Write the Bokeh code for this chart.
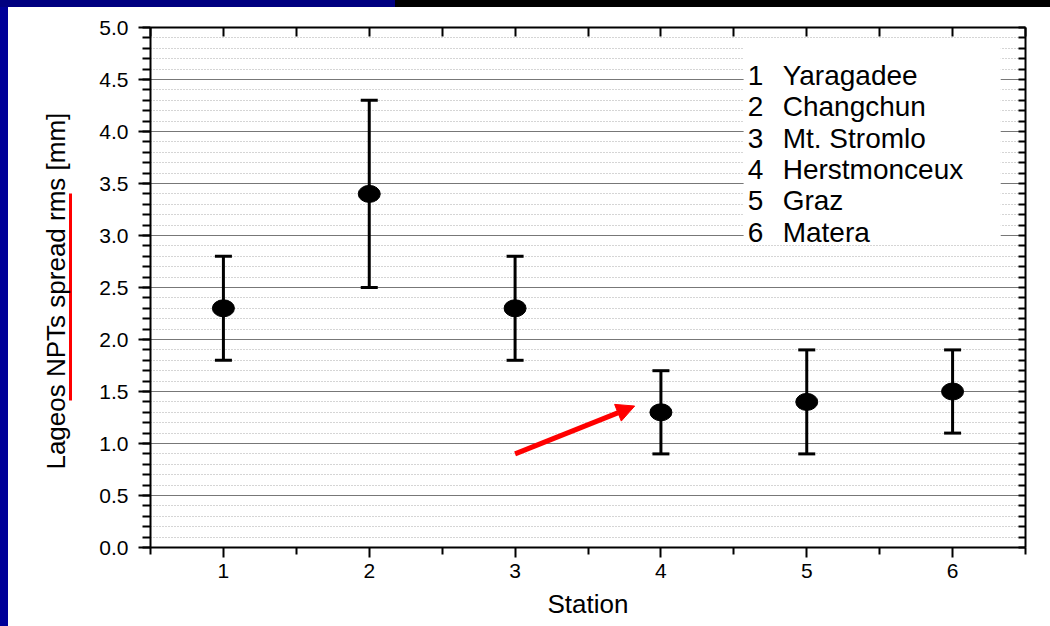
from bokeh.plotting import figure
from bokeh.models import (ColumnDataSource, Whisker, TeeHead, FixedTicker, LinearAxis,
                          Range1d, BoxAnnotation, Arrow, NormalHead, Label, Div)
from bokeh.layouts import column, row
from bokeh.embed import file_html
from bokeh.resources import INLINE

# ---- data ----
stations = [1, 2, 3, 4, 5, 6]
station_names = ["Yaragadee", "Changchun", "Mt. Stromlo", "Herstmonceux", "Graz", "Matera"]
rms = [2.3, 3.4, 2.3, 1.3, 1.4, 1.5]
rms_low = [1.8, 2.5, 1.8, 0.9, 0.9, 1.1]
rms_high = [2.8, 4.3, 2.8, 1.7, 1.9, 1.9]
x_minor = [0.5, 1.5, 2.5, 3.5, 4.5, 5.5, 6.5]
y_major = [0.0, 0.5, 1.0, 1.5, 2.0, 2.5, 3.0, 3.5, 4.0, 4.5, 5.0]
y_tick_labels = ["0.0", "0.5", "1.0", "1.5", "2.0", "2.5", "3.0", "3.5", "4.0", "4.5", "5.0"]
y_minor = [round(i * 0.1, 1) for i in range(51)]
arrow_start = (3.0, 0.9)
arrow_end = (3.82, 1.36)
underline_span = (1.41, 3.40)      # red mark beside the y label (y data units)

FONT = "Liberation Sans"

src = ColumnDataSource(dict(x=stations, y=rms, low=rms_low, high=rms_high))

fig = figure(width=1042, height=619, x_range=Range1d(0.5, 6.5), y_range=Range1d(0, 5),
             output_backend="svg", toolbar_location=None,
             min_border_left=142, min_border_right=25, min_border_top=20, min_border_bottom=79,
             background_fill_color="white", border_fill_color="white", margin=0)
fig.outline_line_color = None

xticker = FixedTicker(ticks=stations, minor_ticks=x_minor)
yticker = FixedTicker(ticks=y_major, minor_ticks=y_minor)

# grid
fig.xgrid.visible = False
fig.ygrid.ticker = yticker
fig.ygrid.grid_line_color = "#777777"
fig.ygrid.grid_line_width = 1
fig.ygrid.minor_grid_line_color = "#aaaaaa"
fig.ygrid.minor_grid_line_dash = "1 2"
fig.ygrid.minor_grid_line_width = 1

def style_axis(ax):
    ax.axis_line_width = 2
    ax.axis_line_color = "black"
    ax.major_tick_line_width = 2
    ax.minor_tick_line_width = 2
    ax.major_tick_line_color = "black"
    ax.minor_tick_line_color = "black"
    ax.major_label_text_font = FONT
    ax.major_label_text_font_size = "21px"
    ax.major_label_text_color = "black"
    ax.axis_label_text_font = FONT
    ax.axis_label_text_font_size = "26px"
    ax.axis_label_text_font_style = "normal"
    ax.axis_label_text_color = "black"

xa = fig.xaxis[0]
xa.ticker = xticker
style_axis(xa)
xa.major_tick_out = 10
xa.major_tick_in = 0
xa.minor_tick_out = 7
xa.minor_tick_in = 0
xa.major_label_standoff = 6
xa.axis_label = "Station"
xa.axis_label_standoff = 8

ya = fig.yaxis[0]
ya.ticker = yticker
style_axis(ya)
ya.major_label_overrides = {v: s for v, s in zip(y_major, y_tick_labels)}
ya.major_tick_out = 12
ya.major_tick_in = 0
ya.minor_tick_out = 8
ya.minor_tick_in = 0
ya.major_label_standoff = 10

# spacer axis (white, one invisible minor tick) then red mark axis carrying the y title
spacer = LinearAxis(ticker=FixedTicker(ticks=[], minor_ticks=[4.95]), bounds=(4.9, 5.0))
spacer.axis_line_color = "white"
spacer.axis_line_width = 1
spacer.major_tick_line_color = "white"
spacer.minor_tick_line_color = "white"
spacer.major_tick_in = 0
spacer.major_tick_out = 26
spacer.minor_tick_in = 0
spacer.minor_tick_out = 26
spacer.major_label_standoff = 0
fig.add_layout(spacer, "left")

title_axis = LinearAxis(ticker=FixedTicker(ticks=[], minor_ticks=[]), bounds=underline_span)
style_axis(title_axis)
title_axis.axis_line_color = "red"
title_axis.axis_line_width = 3
title_axis.major_tick_line_color = None
title_axis.minor_tick_line_color = None
title_axis.major_tick_in = 0
title_axis.major_tick_out = 0
title_axis.minor_tick_in = 0
title_axis.minor_tick_out = 0
title_axis.major_label_standoff = 0
title_axis.axis_label = "Lageos NPTs spread rms  [mm]"
title_axis.axis_label_standoff = 0
fig.add_layout(title_axis, "left")

# top and right frame axes: ticks only, no labels
top = LinearAxis(ticker=FixedTicker(ticks=[], minor_ticks=sorted(stations + x_minor)))
style_axis(top)
top.major_tick_out = 0
top.minor_tick_in = 9
top.minor_tick_out = 0
fig.add_layout(top, "above")

right = LinearAxis(ticker=FixedTicker(ticks=[], minor_ticks=y_minor))
style_axis(right)
right.major_tick_out = 0
right.minor_tick_in = 7
right.minor_tick_out = 0
fig.add_layout(right, "right")

# legend-like station list
fig.add_layout(BoxAnnotation(left=4.567, right=6.33, bottom=2.95, top=4.856,
                             fill_color="white", fill_alpha=1, line_color=None))
for i, (num, name) in enumerate(zip(stations, station_names)):
    yb = 4.54 - 0.302 * i
    fig.add_layout(Label(x=4.595, y=yb, text=str(num), text_font=FONT, text_font_size="28px",
                         text_color="black", text_baseline="alphabetic"))
    fig.add_layout(Label(x=4.835, y=yb, text=name, text_font=FONT, text_font_size="28px",
                         text_color="black", text_baseline="alphabetic"))

# error bars and points
fig.add_layout(Whisker(base="x", upper="high", lower="low", source=src, line_width=3, line_color="black",
                       upper_head=TeeHead(size=17, line_width=3, line_color="black"),
                       lower_head=TeeHead(size=17, line_width=3, line_color="black")))
fig.ellipse(x="x", y="y", width=22, height=17, width_units="screen", height_units="screen",
            source=src, fill_color="black", line_color="black")

# red arrow
fig.add_layout(Arrow(x_start=arrow_start[0], y_start=arrow_start[1], x_end=arrow_end[0], y_end=arrow_end[1],
                     line_color="red", line_width=5,
                     end=NormalHead(size=18, fill_color="red", line_color="red")))

# slide decoration: dark title bar and blue left stripe
top_bar = Div(text="", width=1050, height=7, margin=0,
              styles={"background": "linear-gradient(to right, #000080 395px, #000000 395px)"})
left_stripe = Div(text="", width=8, height=619, margin=0, styles={"background": "#000099"})

p = column(top_bar, row(left_stripe, fig, spacing=0), spacing=0)

open("out.html", "w").write(file_html(p, INLINE))
